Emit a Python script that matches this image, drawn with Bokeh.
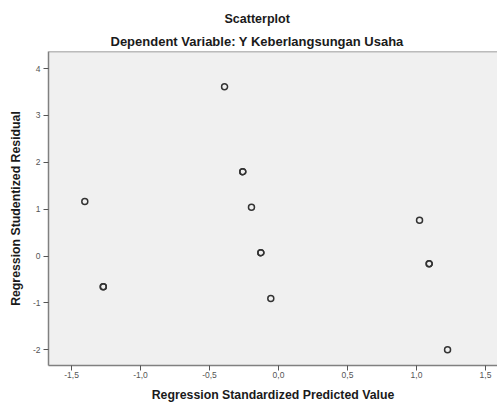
from bokeh.plotting import figure
from bokeh.models import Title, FixedTicker, Range1d, Span
from bokeh.embed import file_html
from bokeh.resources import INLINE

# Data (some points overlap -> drawn twice)
predicted = [-1.404, -1.270, -1.270, -0.391, -0.259, -0.259, -0.196, -0.128, -0.128,
             -0.056, 1.022, 1.092, 1.092, 1.225]
residual = [1.163, -0.657, -0.657, 3.612, 1.799, 1.799, 1.043, 0.071, 0.071,
            -0.906, 0.764, -0.165, -0.165, -1.998]

x_ticks = [-1.5, -1.0, -0.5, 0.0, 0.5, 1.0, 1.5]
x_tick_labels = ["-1,5", "-1,0", "-0,5", "0,0", "0,5", "1,0", "1,5"]
y_ticks = [-2, -1, 0, 1, 2, 3, 4]
y_tick_labels = ["-2", "-1", "0", "1", "2", "3", "4"]

FONT = "Liberation Sans"

xr = Range1d(-1.667, 1.587)
yr = Range1d(-2.336, 4.364)
p = figure(width=497, height=404, output_backend="svg", toolbar_location=None,
           x_range=xr, y_range=yr,
           min_border_left=48, min_border_right=0, min_border_bottom=0, min_border_top=0)
p.title.visible = False

sub = Title(text="Dependent Variable: Y Keberlangsungan Usaha", align="left",
            text_font=FONT, text_font_size="13px", text_font_style="bold",
            text_color="#1a1a1a", offset=62, standoff=5)
main = Title(text="Scatterplot", align="left", text_font=FONT, text_font_size="12.5px",
             text_font_style="bold", text_color="#1a1a1a", offset=176, standoff=8)
spacer = Title(text=" ", text_font=FONT, text_font_size="3px", standoff=0)
p.add_layout(sub, "above")
p.add_layout(main, "above")
p.add_layout(spacer, "above")

p.scatter(predicted, residual, marker="circle", size=6, fill_color=None,
          line_color="#333333", line_width=1.5)

p.background_fill_color = "#f0f0f0"
p.border_fill_color = "white"
p.outline_line_color = None
p.grid.visible = False
p.add_layout(Span(location=yr.end, dimension="width", line_color="#808080", line_width=1.5))

for ax in (p.xaxis[0], p.yaxis[0]):
    ax.axis_line_color = "#808080"
    ax.axis_line_width = 1.5
    ax.major_tick_line_color = "#555555"
    ax.major_tick_out = 5
    ax.major_tick_in = 0
    ax.minor_tick_line_color = None
    ax.major_label_text_font = FONT
    ax.major_label_text_font_size = "8.5px"
    ax.major_label_text_color = "#555555"
    ax.axis_label_text_font = FONT
    ax.axis_label_text_font_size = "12.3px"
    ax.axis_label_text_font_style = "bold"
    ax.axis_label_text_color = "#1a1a1a"

p.xaxis.ticker = FixedTicker(ticks=x_ticks)
p.xaxis.major_label_overrides = dict(zip(x_ticks, x_tick_labels))
p.yaxis.ticker = FixedTicker(ticks=y_ticks)
p.yaxis.major_label_overrides = dict(zip(y_ticks, y_tick_labels))
p.xaxis.axis_label = "Regression Standardized Predicted Value"
p.yaxis.axis_label = "Regression Studentized Residual"
p.xaxis.major_label_standoff = 1
p.xaxis.axis_label_standoff = 7
p.yaxis.major_label_standoff = 3
p.yaxis.axis_label_standoff = 7

open("out.html", "w").write(file_html(p, INLINE))
